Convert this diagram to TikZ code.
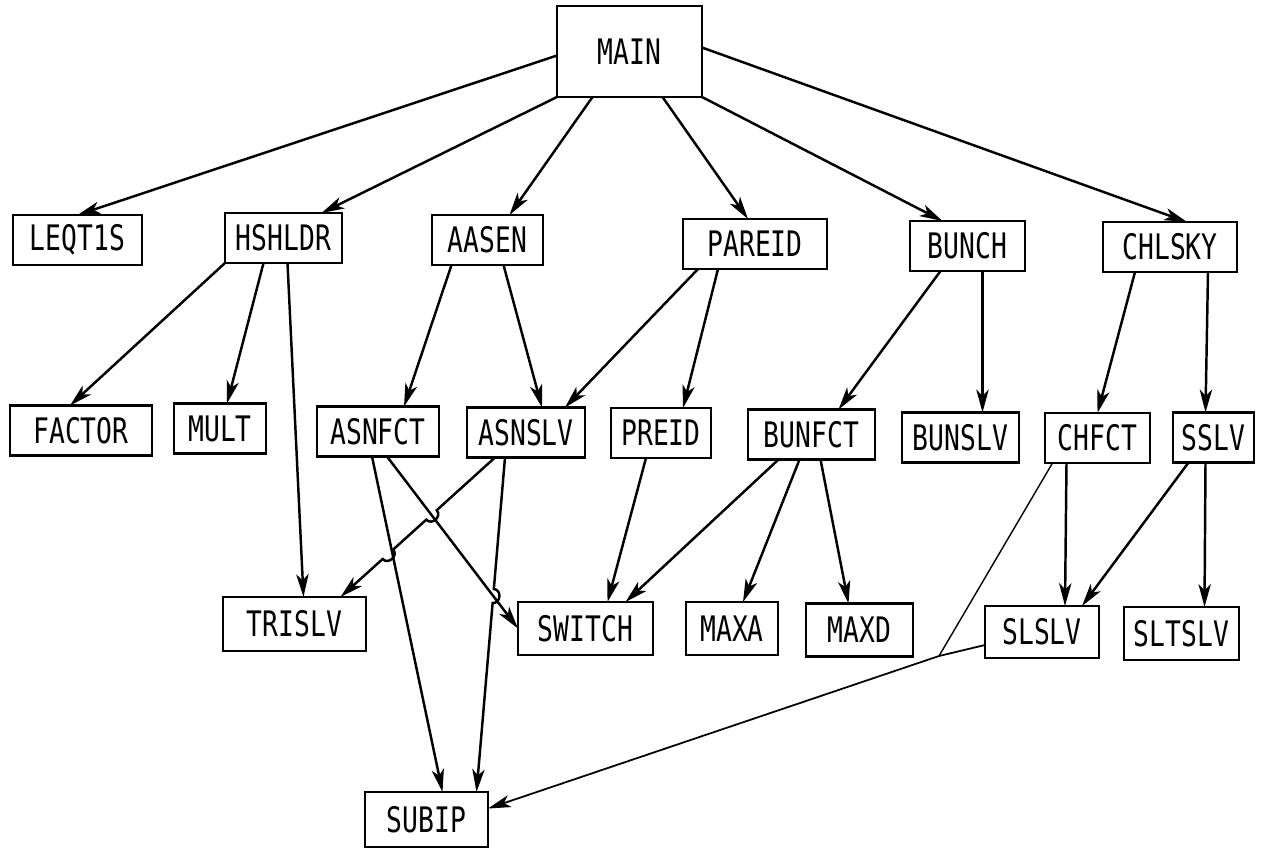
\documentclass[tikz,border=0pt]{standalone}
\usepackage{fontspec}
\newfontfamily\boxfont[FakeStretch=0.75]{DejaVu Sans Mono}
\usetikzlibrary{arrows.meta,calc}

\begin{document}
\begin{tikzpicture}[x=0.02cm, y=-0.02cm,
    box/.style={draw, line width=1.6pt, inner sep=0pt, outer sep=0pt,
      minimum height=1cm, font=\boxfont\fontsize{20}{20}\selectfont},
    wd/.style={minimum width=#1*0.02cm},
    link/.style={line width=1.4pt, -{Stealth[length=13pt, width=7pt, inset=3.5pt]}},
    hop/.style={bend left=90, looseness=1.5}]
    \useasboundingbox (0,0) rectangle (1268,850);

    \node[box, wd=145, minimum height=1.82cm] (main) at (629.5,51.5) {MAIN};
    % first row
    \node[box, wd=129] (leqt) at (77.5,240) {LEQT1S};
    \node[box, wd=117] (hshldr) at (283.5,238) {HSHLDR};
    \node[box, wd=111] (aasen) at (487.5,240) {AASEN};
    \node[box, wd=144] (pareid) at (755,244) {PAREID};
    \node[box, wd=115] (bunch) at (967.5,246) {BUNCH};
    \node[box, wd=134] (chlsky) at (1170,247) {CHLSKY};
    % second row
    \node[box, wd=142] (factor) at (81,430.5) {FACTOR};
    \node[box, wd=92] (mult) at (220,428.5) {MULT};
    \node[box, wd=122] (asnfct) at (378,431.5) {ASNFCT};
    \node[box, wd=118] (asnslv) at (526,432.5) {ASNSLV};
    \node[box, wd=100] (preid) at (661,433) {PREID};
    \node[box, wd=127] (bunfct) at (811.5,434.5) {BUNFCT};
    \node[box, wd=117] (bunslv) at (960.5,437.5) {BUNSLV};
    \node[box, wd=105] (chfct) at (1097.5,438) {CHFCT};
    \node[box, wd=81] (sslv) at (1213.5,437.5) {SSLV};
    % third row
    \node[box, wd=143, minimum height=1.08cm] (trislv) at (294.5,624) {TRISLV};
    \node[box, wd=135, minimum height=1.06cm] (switch) at (585.5,628.5) {SWITCH};
    \node[box, wd=92, minimum height=1.06cm] (maxa) at (732,628.5) {MAXA};
    \node[box, wd=107, minimum height=1.06cm] (maxd) at (859.5,630) {MAXD};
    \node[box, wd=114, minimum height=1.04cm] (slslv) at (1042,632) {SLSLV};
    \node[box, wd=115, minimum height=1.06cm] (sltslv) at (1181.5,633.5) {SLTSLV};
    \node[box, wd=123, minimum height=1.1cm] (subip) at (426.5,819.5) {SUBIP};

    % calls from MAIN
    \draw[link] ([shift={(0,4)}]main.west) -- (leqt.north);
    \draw[link] (main.south west) -- ([shift={(38,0)}]hshldr.north);
    \draw[link] ([shift={(-37,0)}]main.south) -- ([shift={(22,0)}]aasen.north);
    \draw[link] ([shift={(33,0)}]main.south) -- ([shift={(-7,0)}]pareid.north);
    \draw[link] (main.south east) -- ([shift={(-25,0)}]bunch.north);
    \draw[link] ([shift={(0,-4)}]main.east) -- ([shift={(17,0)}]chlsky.north);

    % first row down
    \draw[link] (hshldr.south west) -- ([shift={(-11,0)}]factor.north);
    \draw[link] ([shift={(-20,0)}]hshldr.south) -- ([shift={(7,0)}]mult.north);
    \draw[link] ([shift={(4,0)}]hshldr.south) -- ([shift={(9,0)}]trislv.north);
    \draw[link] ([shift={(-36,0)}]aasen.south) -- ([shift={(26,0)}]asnfct.north);
    \draw[link] ([shift={(16,0)}]aasen.south) -- ([shift={(16,0)}]asnslv.north);
    \draw[link] ([shift={(-57,0)}]pareid.south) -- ([shift={(39,0)}]asnslv.north);
    \draw[link] ([shift={(-37,0)}]pareid.south) -- ([shift={(22,0)}]preid.north);
    \draw[link] ([shift={(-27,0)}]bunch.south) -- ([shift={(27,0)}]bunfct.north);
    \draw[link] ([shift={(15,0)}]bunch.south) -- ([shift={(22,0)}]bunslv.north);
    \draw[link] ([shift={(-35,0)}]chlsky.south) -- (chfct.north);
    \draw[link] ([shift={(38,0)}]chlsky.south) -- ([shift={(-8,0)}]sslv.north);

    % second row down
    \coordinate (asnfct-a) at ([shift={(-6,0)}]asnfct.south);
    \coordinate (asnfct-b) at ([shift={(9,0)}]asnfct.south);
    \coordinate (asnslv-a) at ([shift={(-31,0)}]asnslv.south);
    \coordinate (asnslv-b) at ([shift={(-21,0)}]asnslv.south);
    \coordinate (trislv-in) at ([shift={(46,0)}]trislv.north);
    \coordinate (subip-in) at ([shift={(50,0)}]subip.north);
    \coordinate (switch-in) at (switch.west);
    \coordinate (hop1) at (intersection of asnslv-a--trislv-in and asnfct-b--switch-in);
    \coordinate (hop2) at (intersection of asnslv-a--trislv-in and asnfct-a--subip.north);
    \coordinate (hop3) at (intersection of asnslv-b--subip-in and asnfct-b--switch-in);

    \draw[link] (asnfct-a) -- ([shift={(16,0)}]subip.north);
    \draw[link] (asnfct-b) -- (switch-in);
    \draw[link] (asnslv-a) -- ($(hop1)!4pt!(asnslv-a)$) to[hop] ($(hop1)!4pt!(trislv-in)$)
        -- ($(hop2)!4pt!(asnslv-a)$) to[hop] ($(hop2)!4pt!(trislv-in)$) -- (trislv-in);
    \draw[link] (asnslv-b) -- ($(hop3)!4pt!(asnslv-b)$) to[hop] ($(hop3)!4pt!(subip-in)$) -- (subip-in);
    \draw[link] ([shift={(-15,0)}]preid.south) -- ([shift={(22,0)}]switch.north);
    \draw[link] ([shift={(-33,0)}]bunfct.south) -- ([shift={(40,0)}]switch.north);
    \draw[link] ([shift={(-12,0)}]bunfct.south) -- ([shift={(11,0)}]maxa.north);
    \draw[link] ([shift={(9,0)}]bunfct.south) -- ([shift={(-11,0)}]maxd.north);
    \draw[link] ([shift={(-31,0)}]chfct.south) -- ([shift={(23,0)}]slslv.north);
    \draw[link] ([shift={(-25,0)}]sslv.south) -- ([shift={(40,0)}]slslv.north);
    \draw[link] ([shift={(-8,0)}]sslv.south) -- ([shift={(23,0)}]sltslv.north);

    % CHFCT and SLSLV both to SUBIP
    \coordinate (merge) at (939,656);
    \draw[line width=0.8pt] ([shift={(-45,0)}]chfct.south) -- (merge);
    \draw[link, line width=1pt] ([shift={(0,13)}]slslv.west) -- (merge) -- ([shift={(0,-11)}]subip.east);
\end{tikzpicture}
\end{document}
